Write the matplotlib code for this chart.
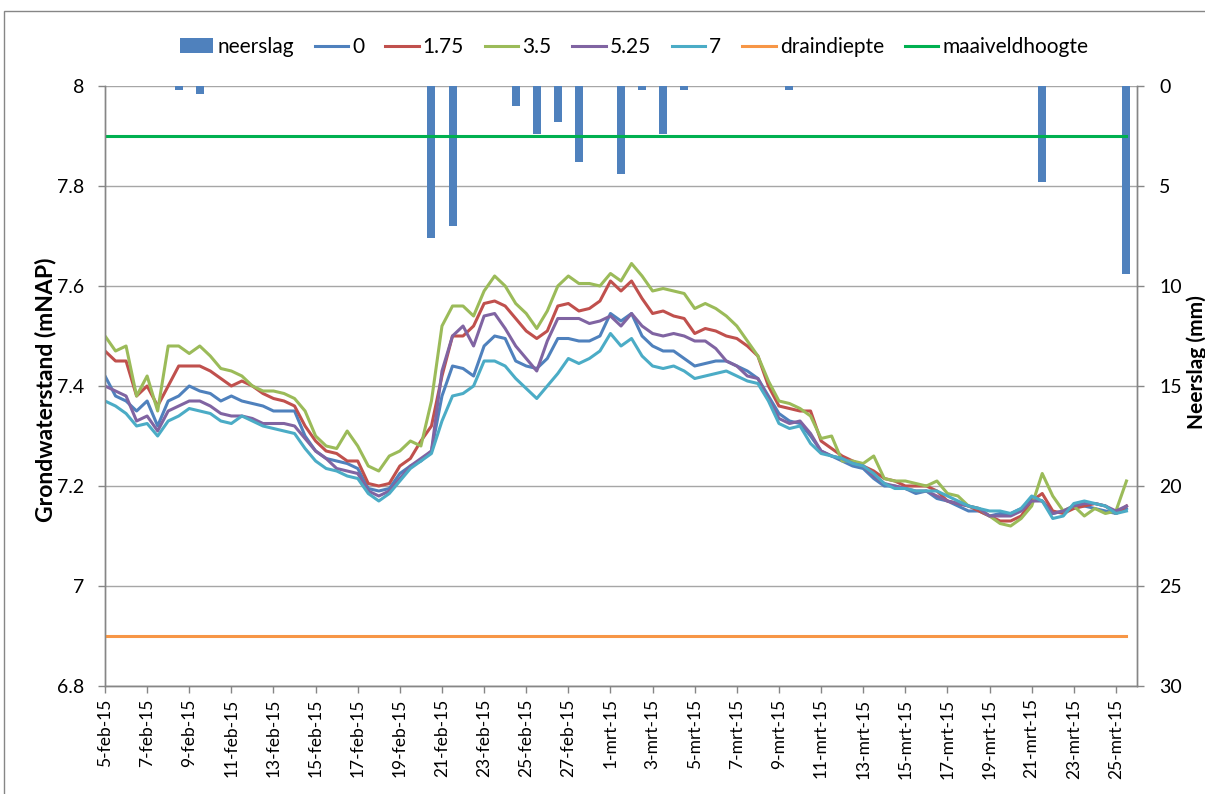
import numpy as np
import pandas as pd
import matplotlib
matplotlib.use("Agg")
import matplotlib.pyplot as plt
from matplotlib.patches import Rectangle

plt.rcParams['font.family'] = ['Lato', 'DejaVu Sans']

# ---------------- data ----------------
start = pd.Timestamp('2015-02-05')
step_hours = 12

gw_0 = [7.42, 7.38, 7.37, 7.35, 7.37, 7.32, 7.37, 7.38, 7.40, 7.39,
        7.385, 7.37, 7.38, 7.37, 7.365, 7.36, 7.35, 7.35, 7.35, 7.30,
        7.27, 7.255, 7.25, 7.245, 7.235, 7.195, 7.19, 7.195, 7.225, 7.24,
        7.25, 7.27, 7.38, 7.44, 7.435, 7.42, 7.48, 7.50, 7.495, 7.45,
        7.44, 7.435, 7.455, 7.495, 7.495, 7.49, 7.49, 7.50, 7.545, 7.53,
        7.545, 7.50, 7.48, 7.47, 7.47, 7.455, 7.44, 7.445, 7.45, 7.45,
        7.44, 7.43, 7.415, 7.38, 7.345, 7.33, 7.325, 7.30, 7.27, 7.26,
        7.25, 7.24, 7.235, 7.215, 7.20, 7.20, 7.195, 7.185, 7.19, 7.175,
        7.17, 7.16, 7.15, 7.15, 7.14, 7.145, 7.145, 7.155, 7.175, 7.17,
        7.145, 7.15, 7.16, 7.16, 7.155, 7.15, 7.145, 7.155]

gw_175 = [7.47, 7.45, 7.45, 7.38, 7.40, 7.36, 7.40, 7.44, 7.44, 7.44,
          7.43, 7.415, 7.40, 7.41, 7.40, 7.385, 7.375, 7.37, 7.36, 7.32,
          7.29, 7.27, 7.265, 7.25, 7.25, 7.205, 7.20, 7.205, 7.24, 7.255,
          7.29, 7.32, 7.42, 7.50, 7.50, 7.52, 7.565, 7.57, 7.56, 7.535,
          7.51, 7.495, 7.51, 7.56, 7.565, 7.55, 7.555, 7.57, 7.61, 7.59,
          7.61, 7.575, 7.545, 7.55, 7.54, 7.535, 7.505, 7.515, 7.51, 7.50,
          7.495, 7.48, 7.46, 7.40, 7.36, 7.355, 7.35, 7.35, 7.29, 7.275,
          7.26, 7.25, 7.24, 7.23, 7.215, 7.21, 7.20, 7.20, 7.20, 7.19,
          7.17, 7.165, 7.16, 7.15, 7.14, 7.13, 7.13, 7.14, 7.17, 7.185,
          7.15, 7.145, 7.155, 7.16, 7.165, 7.16, 7.145, 7.16]

gw_35 = [7.50, 7.47, 7.48, 7.38, 7.42, 7.35, 7.48, 7.48, 7.465, 7.48,
         7.46, 7.435, 7.43, 7.42, 7.40, 7.39, 7.39, 7.385, 7.375, 7.35,
         7.30, 7.28, 7.275, 7.31, 7.28, 7.24, 7.23, 7.26, 7.27, 7.29,
         7.28, 7.37, 7.52, 7.56, 7.56, 7.54, 7.59, 7.62, 7.60, 7.565,
         7.545, 7.515, 7.55, 7.60, 7.62, 7.605, 7.605, 7.60, 7.625, 7.61,
         7.645, 7.62, 7.59, 7.595, 7.59, 7.585, 7.555, 7.565, 7.555, 7.54,
         7.52, 7.49, 7.46, 7.41, 7.37, 7.365, 7.355, 7.34, 7.295, 7.30,
         7.25, 7.25, 7.245, 7.26, 7.215, 7.21, 7.21, 7.205, 7.20, 7.21,
         7.185, 7.18, 7.16, 7.155, 7.14, 7.125, 7.12, 7.135, 7.16, 7.225,
         7.18, 7.15, 7.16, 7.14, 7.155, 7.145, 7.15, 7.21]

gw_525 = [7.40, 7.39, 7.38, 7.33, 7.34, 7.31, 7.35, 7.36, 7.37, 7.37,
          7.36, 7.345, 7.34, 7.34, 7.335, 7.325, 7.325, 7.325, 7.32, 7.295,
          7.27, 7.255, 7.235, 7.23, 7.225, 7.19, 7.18, 7.19, 7.215, 7.24,
          7.255, 7.27, 7.43, 7.50, 7.52, 7.48, 7.54, 7.545, 7.515, 7.48,
          7.455, 7.43, 7.49, 7.535, 7.535, 7.535, 7.525, 7.53, 7.54, 7.52,
          7.545, 7.52, 7.505, 7.50, 7.505, 7.50, 7.49, 7.49, 7.475, 7.45,
          7.44, 7.42, 7.415, 7.375, 7.335, 7.325, 7.33, 7.305, 7.27, 7.26,
          7.255, 7.245, 7.24, 7.22, 7.205, 7.20, 7.195, 7.19, 7.19, 7.18,
          7.17, 7.165, 7.16, 7.155, 7.14, 7.14, 7.14, 7.15, 7.17, 7.17,
          7.145, 7.15, 7.16, 7.165, 7.165, 7.16, 7.15, 7.16]

gw_7 = [7.37, 7.36, 7.345, 7.32, 7.325, 7.30, 7.33, 7.34, 7.355, 7.35,
        7.345, 7.33, 7.325, 7.34, 7.33, 7.32, 7.315, 7.31, 7.305, 7.275,
        7.25, 7.235, 7.23, 7.22, 7.215, 7.185, 7.17, 7.185, 7.21, 7.235,
        7.25, 7.265, 7.33, 7.38, 7.385, 7.40, 7.45, 7.45, 7.44, 7.415,
        7.395, 7.375, 7.40, 7.425, 7.455, 7.445, 7.455, 7.47, 7.505, 7.48,
        7.495, 7.46, 7.44, 7.435, 7.44, 7.43, 7.415, 7.42, 7.425, 7.43,
        7.42, 7.41, 7.405, 7.37, 7.325, 7.315, 7.32, 7.285, 7.265, 7.26,
        7.255, 7.245, 7.24, 7.225, 7.205, 7.195, 7.195, 7.19, 7.19, 7.19,
        7.18, 7.17, 7.16, 7.155, 7.15, 7.15, 7.145, 7.155, 7.18, 7.17,
        7.135, 7.14, 7.165, 7.17, 7.165, 7.16, 7.145, 7.15]

draindiepte = 6.9
maaiveldhoogte = 7.9

rain_dates = ['2015-02-08', '2015-02-09', '2015-02-20', '2015-02-21', '2015-02-24',
              '2015-02-25', '2015-02-26', '2015-02-27', '2015-03-01', '2015-03-02',
              '2015-03-03', '2015-03-04', '2015-03-09', '2015-03-21', '2015-03-25']
rain_mm = [0.2, 0.4, 7.6, 7.0, 1.0, 2.4, 1.8, 3.8, 4.4, 0.2, 2.4, 0.2, 0.2, 4.8, 9.4]

series_names = ['0', '1.75', '3.5', '5.25', '7']
series_values = [gw_0, gw_175, gw_35, gw_525, gw_7]
series_colors = ['#4F81BD', '#C0504D', '#9BBB59', '#8064A2', '#4BACC6']

tick_dates = pd.date_range('2015-02-05', '2015-03-25', freq='2D')
month_nl = {2: 'feb', 3: 'mrt'}
tick_labels = [f"{d.day}-{month_nl[d.month]}-15" for d in tick_dates]

# ---------------- figure ----------------
n = min(len(s) for s in series_values)
times = start + pd.to_timedelta(np.arange(n) * step_hours, unit='h')

fig = plt.figure(figsize=(12.05, 7.94), dpi=100)
ax = fig.add_axes([105/1205, 1-686/794, (1137-105)/1205, (686-86)/794])
ax2 = ax.twinx()

# bars + grid in the back axis, lines in front
ax2.set_zorder(1)
ax.set_zorder(2)
ax.patch.set_visible(False)

rd = pd.to_datetime(rain_dates) + pd.Timedelta(hours=12)
bars = ax2.bar(rd, rain_mm, width=0.38, color='#4F81BD', zorder=2, label='neerslag')
ax2.set_ylim(30, 0)
ax2.set_yticks(np.arange(0, 31, 5))
ax2.grid(axis='y', color='#A6A6A6', lw=1.0, zorder=0)
ax2.set_axisbelow(True)

lines = []
for name, vals, col in zip(series_names, series_values, series_colors):
    l, = ax.plot(times, vals[:n], color=col, lw=2.2, label=name, solid_joinstyle='round')
    lines.append(l)
ld, = ax.plot(times, np.full(n, draindiepte), color='#F79646', lw=2.2, label='draindiepte')
lm, = ax.plot(times, np.full(n, maaiveldhoogte), color='#00B050', lw=2.2, label='maaiveldhoogte')

ax.set_ylim(6.8, 8.0)
ax.set_yticks(np.arange(6.8, 8.01, 0.2))
ax.set_yticklabels(['6.8', '7', '7.2', '7.4', '7.6', '7.8', '8'])
ax.set_xlim(pd.Timestamp('2015-02-05'), pd.Timestamp('2015-03-26'))
ax.set_xticks(tick_dates)
ax.set_xticklabels(tick_labels, rotation=90)

for a in (ax, ax2):
    for s in a.spines.values():
        s.set_color('#868686')
        s.set_linewidth(1.0)
    a.spines['top'].set_visible(False)
    a.tick_params(colors='#868686', length=5, width=1.0, labelcolor='black')
ax.tick_params(axis='x', labelsize=12.5, pad=4)
ax.tick_params(axis='y', labelsize=14, pad=10)
ax2.tick_params(axis='y', labelsize=14, pad=11)

ax.set_ylabel('Grondwaterstand (mNAP)', fontsize=16.5, fontweight='bold')
ax.yaxis.set_label_coords((56-105)/1032, (686-390)/600)
ax2.set_ylabel('Neerslag (mm)', fontsize=15, fontweight='bold')
ax2.yaxis.set_label_coords((1186-105)/1032, (686-362)/600)

handles = [bars] + lines + [ld, lm]
labels = ['neerslag'] + series_names + ['draindiepte', 'maaiveldhoogte']
fig.legend(handles, labels, loc='center', bbox_to_anchor=(634/1205, 1-47/794), ncol=8,
           frameon=False, fontsize=15, handlelength=1.6, handletextpad=0.2,
           columnspacing=1.0, handleheight=0.7)

fig.patches.append(Rectangle((4/1205, -0.05), 1.1, 1 - 11/794 + 0.05, transform=fig.transFigure,
                             fill=False, edgecolor='#868686', lw=1.0))

fig.savefig('out.png', dpi=100)
